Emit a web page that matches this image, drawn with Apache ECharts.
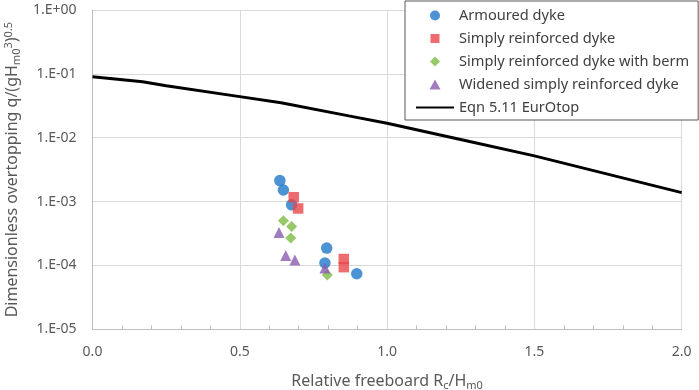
<!DOCTYPE html>
<html>
<head>
<meta charset="utf-8">
<script src="https://cdn.jsdelivr.net/npm/echarts@6/dist/echarts.min.js"></script>
<style>html,body{margin:0;padding:0;background:#fff;}#c{width:699px;height:390px;}</style>
</head>
<body>
<div id="c"></div>
<script>
// Data
const armouredX = [0.636, 0.648, 0.676, 0.795, 0.789, 0.897];
const armouredY = [2.13e-3, 1.52e-3, 8.9e-4, 1.87e-4, 1.09e-4, 7.4e-5];
const simplyX = [0.683, 0.698, 0.853, 0.853];
const simplyY = [1.17e-3, 7.8e-4, 1.26e-4, 9.4e-5];
const bermX = [0.648, 0.676, 0.673, 0.797];
const bermY = [5.0e-4, 4.06e-4, 2.7e-4, 7.1e-5];
const widenedX = [0.633, 0.656, 0.687, 0.789];
const widenedY = [3.27e-4, 1.43e-4, 1.22e-4, 9.1e-5];
const eqnX = [0.0, 0.17, 0.25, 0.5, 0.64, 0.87, 1.0, 1.28, 1.5, 2.0];
const eqnY = [0.090, 0.0755, 0.065, 0.044, 0.0354, 0.022, 0.0169, 0.0087, 0.0052, 0.00138];
const yTickLabels = ['1.E-05', '1.E-04', '1.E-03', '1.E-02', '1.E-01', '1.E+00'];
const seriesNames = ['Armoured dyke', 'Simply reinforced dyke', 'Simply reinforced dyke with berm', 'Widened simply reinforced dyke', 'Eqn 5.11 EurOtop'];

const zip = (xs, ys) => xs.map((x, i) => [x, ys[i]]);
const FONT = 'Noto Sans';
const txt = '#595959';
// legend icons: shape centred in a 38x10 box (invisible end points keep the box size)
const pad = 'M0,0L0,0M38,10L38,10';
const icons = [
  'path://' + pad + 'M14,5A5,5,0,1,0,24,5A5,5,0,1,0,14,5Z',
  'path://' + pad + 'M14.5,0.5L23.5,0.5L23.5,9.5L14.5,9.5Z',
  'path://' + pad + 'M19,0L24,5L19,10L14,5Z',
  'path://' + pad + 'M19,0L24.5,10L13.5,10Z'
];

const chart = echarts.init(document.getElementById('c'), null, {renderer: 'canvas'});
chart.setOption({
  animation: false,
  textStyle: {fontFamily: FONT},
  grid: {left: 92.5, right: 17.3, top: 10, bottom: 60.7, containLabel: false, outerBoundsMode: 'none'},
  legend: {
    orient: 'vertical',
    left: 405, top: 1,
    padding: [7, 9, 5, 10],
    itemWidth: 38, itemHeight: 10, itemGap: 8,
    borderColor: '#595959', borderWidth: 1,
    backgroundColor: '#fff',
    textStyle: {fontFamily: FONT, fontSize: 14.6, color: '#404040', lineHeight: 15},
    data: [
      {name: seriesNames[0], icon: icons[0]},
      {name: seriesNames[1], icon: icons[1]},
      {name: seriesNames[2], icon: icons[2]},
      {name: seriesNames[3], icon: icons[3]},
      {name: seriesNames[4], itemStyle: {opacity: 0}}
    ]
  },
  xAxis: {
    type: 'value', min: 0, max: 2, interval: 0.5,
    name: '{n|Relative freeboard R}{s|c}{n|/H}{s|m0}',
    nameLocation: 'middle', nameGap: 43,
    nameTextStyle: {rich: {
      n: {fontFamily: FONT, fontSize: 16, color: txt},
      s: {fontFamily: FONT, fontSize: 11, color: txt, verticalAlign: 'bottom', padding: [8, 0, 0, 0]}
    }},
    axisLine: {lineStyle: {color: '#bfbfbf'}},
    axisTick: {show: false, inside: true},
    minorTick: {show: true, splitNumber: 5, length: 4, lineStyle: {color: '#bfbfbf'}},
    axisLabel: {fontFamily: FONT, fontSize: 14, color: txt, margin: 16, formatter: v => v.toFixed(1)},
    splitLine: {show: true, lineStyle: {color: '#d9d9d9'}}
  },
  yAxis: {
    type: 'log', logBase: 10, min: 1e-5, max: 1,
    name: '{n|Dimensionless overtopping q/(gH}{s|m0}{p|3}{n|)}{p|0.5}',
    nameLocation: 'middle', nameGap: 67, nameRotate: 90,
    nameTextStyle: {rich: {
      n: {fontFamily: FONT, fontSize: 16, color: txt},
      s: {fontFamily: FONT, fontSize: 11, color: txt, verticalAlign: 'bottom', padding: [8, 0, 0, 0]},
      p: {fontFamily: FONT, fontSize: 11, color: txt, verticalAlign: 'top', padding: [0, 0, 8, 0]}
    }},
    axisLine: {show: true, lineStyle: {color: '#bfbfbf'}},
    axisTick: {show: false},
    axisLabel: {fontFamily: FONT, fontSize: 14, color: txt, margin: 16,
      formatter: v => yTickLabels[Math.round(Math.log10(v)) + 5]},
    splitLine: {show: true, lineStyle: {color: '#d9d9d9'}}
  },
  series: [
    {name: seriesNames[0], type: 'scatter', symbol: 'circle', symbolSize: 11.5, itemStyle: {color: '#1F78C8'}, data: zip(armouredX, armouredY), z: 3},
    {name: seriesNames[1], type: 'scatter', symbol: 'rect', symbolSize: 10.5, itemStyle: {color: '#E8474C'}, data: zip(simplyX, simplyY), z: 4},
    {name: seriesNames[2], type: 'scatter', symbol: 'diamond', symbolSize: 11, itemStyle: {color: '#7DBB43'}, data: zip(bermX, bermY), z: 2},
    {name: seriesNames[3], type: 'scatter', symbol: 'triangle', symbolSize: 11, itemStyle: {color: '#8A5BAE'}, data: zip(widenedX, widenedY), z: 5},
    {name: seriesNames[4], type: 'line', symbol: 'none', showSymbol: false, lineStyle: {color: '#000', width: 3}, itemStyle: {color: '#000'}, data: zip(eqnX, eqnY), z: 1}
  ]
});
</script>
</body>
</html>
